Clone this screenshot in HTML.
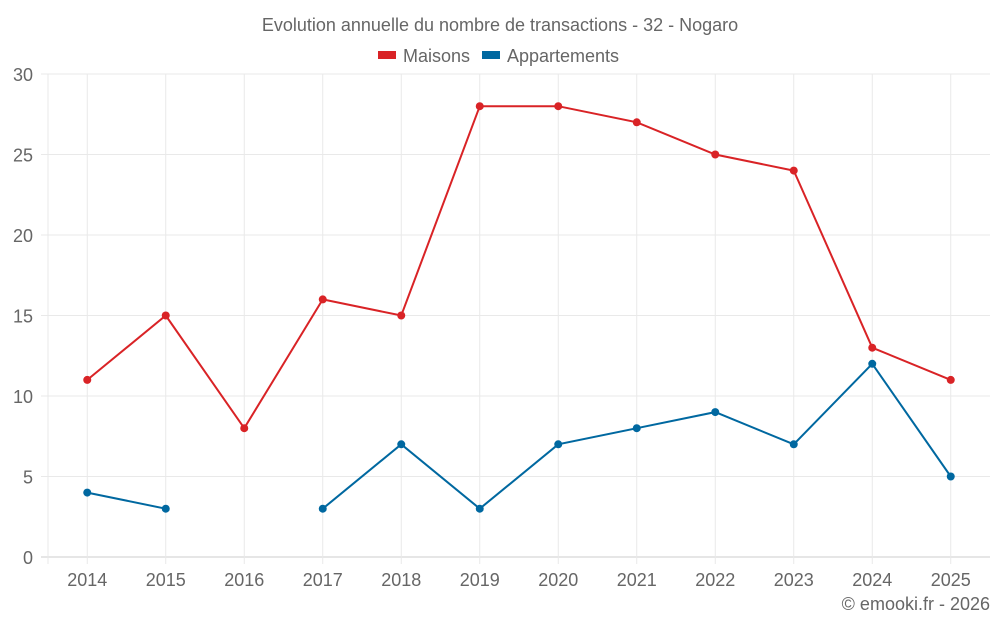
<!DOCTYPE html>
<html><head><meta charset="utf-8"><style>
html,body{margin:0;padding:0;background:#fff;}
svg text{font-family:"Liberation Sans",sans-serif;fill:#666;}
</style></head><body>
<svg id="chart" width="1000" height="625" viewBox="0 0 1000 625" xmlns="http://www.w3.org/2000/svg">
<text x="500" y="31" text-anchor="middle" font-size="18">Evolution annuelle du nombre de transactions - 32 - Nogaro</text>
<g>
<g><rect x="378" y="51" width="18" height="8" fill="#d92326"/><text x="403" y="62" font-size="18">Maisons</text></g>
<g><rect x="482" y="51" width="18" height="8" fill="#0068a0"/><text x="507" y="62" font-size="18">Appartements</text></g>
</g>
<g id="grid"></g>
<g id="axes"></g>
<g id="series"></g>
<text x="990" y="610" text-anchor="end" font-size="18">© emooki.fr - 2026</text>
</svg>
<script>
const categories=["2014","2015","2016","2017","2018","2019","2020","2021","2022","2023","2024","2025"];
const maisons=[11,15,8,16,15,28,28,27,25,24,13,11];
const appartements=[4,3,null,3,7,3,7,8,9,7,12,5];
const yTicks=[0,5,10,15,20,25,30];
const L=48,R=990,T=74,B=557,yMax=30;
const NS="http://www.w3.org/2000/svg";
const bw=(R-L)/categories.length;
const xs=i=>L+(i+0.5)*bw;
const ys=v=>B-(v/yMax)*(B-T);
function mk(tag,attrs,parent){const e=document.createElementNS(NS,tag);for(const k in attrs)e.setAttribute(k,attrs[k]);parent.appendChild(e);return e;}
const grid=document.getElementById('grid'),axes=document.getElementById('axes'),series=document.getElementById('series');
yTicks.forEach(t=>{
 const l=mk('line',{x1:41,x2:R,y1:ys(t),y2:ys(t),stroke:t===0?'#ccc':'#e9e9e9','stroke-width':1},grid);
 
 
 const tx=mk('text',{x:33,y:ys(t)+7,'text-anchor':'end','font-size':18},axes);
 tx.textContent=t;
 
 
});
const lv=mk('line',{x1:L,x2:L,y1:T,y2:B+7,stroke:'#e9e9e9'},grid);


categories.forEach((c,i)=>{
 const l=mk('line',{x1:xs(i),x2:xs(i),y1:T,y2:B+7,stroke:'#e9e9e9'},grid);
 
 
 const tx=mk('text',{x:xs(i),y:586,'text-anchor':'middle','font-size':18},axes);
 tx.textContent=c;
 
 
});
function draw(data,color,name){
 let d='',pen=false;
 data.forEach((v,i)=>{if(v==null){pen=false;return;}d+=(pen?'L':'M')+xs(i)+','+ys(v)+' ';pen=true;});
 const p=mk('path',{d:d,fill:'none',stroke:color,'stroke-width':2},series);
 
 
 data.forEach((v,i)=>{if(v==null)return;
  const c=mk('circle',{cx:xs(i),cy:ys(v),r:4,fill:color},series);
  
  
 });
}
draw(maisons,'#d92326','maisons');
draw(appartements,'#0068a0','appartements');
</script>
</body></html>
